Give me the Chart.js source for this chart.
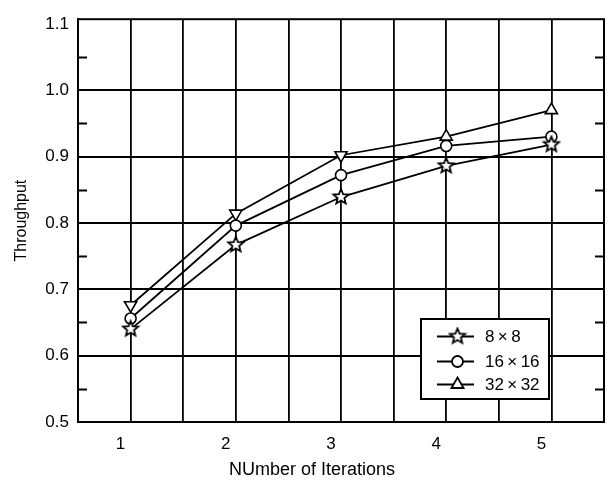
<!DOCTYPE html>
<html>
<head>
<meta charset="utf-8">
<script src="https://cdn.jsdelivr.net/npm/chart.js@4/dist/chart.umd.min.js"></script>
<style>
html,body{margin:0;padding:0;background:#fff;}
#c{display:block;}
</style>
</head>
<body>
<canvas id="c" width="616" height="483"></canvas>
<script>
// ---- data ----
const categories = [1, 2, 3, 4, 5];
const xTickLabels = ['1', '2', '3', '4', '5'];
const seriesNames = ['8\u2009×\u20098', '16\u2009×\u200916', '32\u2009×\u200932'];
const series8 = [0.640, 0.767, 0.839, 0.886, 0.918];
const series16 = [0.656, 0.796, 0.872, 0.916, 0.930];
const series32 = [0.676, 0.814, 0.902, 0.930, 0.970];
const triangleRotation = [180, 180, 180, 0, 0];
const yTicks = [0.5, 0.6, 0.7, 0.8, 0.9, 1.0, 1.1];
const yMinorTicks = [0.55, 0.65, 0.75, 0.85, 0.95, 1.05];
const xGridValues = [0.5, 1, 1.5, 2, 2.5, 3, 3.5, 4, 4.5, 5, 5.5];
const xTitle = 'NUmber of Iterations';
const yTitle = 'Throughput';

// ---- star marker ----
function makeStar(size, outer, inner, lw) {
  const cv = document.createElement('canvas');
  cv.width = size; cv.height = size;
  const g = cv.getContext('2d');
  const c = size / 2;
  g.beginPath();
  for (let i = 0; i < 10; i++) {
    const r = i % 2 === 0 ? outer : inner;
    const a = -Math.PI / 2 + i * Math.PI / 5;
    const px = c + r * Math.cos(a), py = c + r * Math.sin(a);
    if (i === 0) g.moveTo(px, py); else g.lineTo(px, py);
  }
  g.closePath();
  g.fillStyle = '#fff';
  g.fill();
  g.lineWidth = lw;
  g.strokeStyle = '#000';
  g.lineJoin = 'miter';
  g.stroke();
  return cv;
}
const starImg = makeStar(20, 8, 3.6, 1.8);

const toPts = arr => categories.map((c, i) => ({x: c, y: arr[i]}));

Chart.defaults.font.family = '"Liberation Sans", Arial, sans-serif';
Chart.defaults.color = '#000';

const frameAndExtras = {
  id: 'frameAndExtras',
  afterDraw(chart) {
    const ctx = chart.ctx;
    const a = chart.chartArea;
    const ys = chart.scales.y;
    ctx.save();
    // frame
    ctx.strokeStyle = '#000';
    ctx.lineWidth = 2;
    ctx.strokeRect(a.left, a.top, a.right - a.left, a.bottom - a.top);
    // minor ticks
    ctx.lineWidth = 1.8;
    yMinorTicks.forEach(v => {
      const py = Math.round(ys.getPixelForValue(v)) + 0.5;
      ctx.beginPath();
      ctx.moveTo(a.left, py); ctx.lineTo(a.left + 9, py);
      ctx.moveTo(a.right, py); ctx.lineTo(a.right - 9, py);
      ctx.stroke();
    });
    // axis titles
    ctx.fillStyle = '#000';
    ctx.font = '18px "Liberation Sans", Arial, sans-serif';
    ctx.textAlign = 'center';
    ctx.textBaseline = 'middle';
    ctx.fillText(xTitle, 312, 470);
    ctx.save();
    ctx.translate(22, (a.top + a.bottom) / 2);
    ctx.rotate(-Math.PI / 2);
    ctx.font = '16px "Liberation Sans", Arial, sans-serif';
    ctx.fillText(yTitle, 0, 0);
    ctx.restore();
    // legend
    const bx = 421, by = 319, bw = 128, bh = 80;
    ctx.fillStyle = '#fff';
    ctx.fillRect(bx, by, bw, bh);
    ctx.lineWidth = 2;
    ctx.strokeStyle = '#000';
    ctx.strokeRect(bx, by, bw, bh);
    const rows = [336.5, 361.5, 384.5];
    chart.data.datasets.forEach((ds, i) => {
      const ry = rows[i];
      ctx.beginPath();
      ctx.lineWidth = 1.8;
      ctx.moveTo(437, ry); ctx.lineTo(474, ry);
      ctx.stroke();
      Chart.helpers.drawPoint(ctx, {
        pointStyle: ds.pointStyle,
        radius: ds.pointRadius,
        rotation: 0,
        borderWidth: ds.pointBorderWidth
      }, 457.5, ry);
      ctx.fillStyle = '#000';
      ctx.font = '17px "Liberation Sans", Arial, sans-serif';
      ctx.textAlign = 'left';
      ctx.textBaseline = 'middle';
      ctx.fillText(ds.label, 485, ry + 1);
      ctx.fillStyle = '#fff';
    });
    ctx.restore();
  }
};

const common = {
  borderColor: '#000',
  borderWidth: 1.8,
  pointBorderColor: '#000',
  pointBackgroundColor: '#fff',
  pointBorderWidth: 1.6,
  tension: 0,
  fill: false
};

new Chart(document.getElementById('c'), {
  type: 'line',
  data: {
    datasets: [
      Object.assign({}, common, {label: seriesNames[0], data: toPts(series8), pointStyle: starImg, pointRadius: 7}),
      Object.assign({}, common, {label: seriesNames[1], data: toPts(series16), pointStyle: 'circle', pointRadius: 5.5}),
      Object.assign({}, common, {label: seriesNames[2], data: toPts(series32), pointStyle: 'triangle', pointRadius: 7, pointRotation: triangleRotation})
    ]
  },
  options: {
    responsive: false,
    animation: false,
    layout: {padding: {top: 9, right: 7, bottom: 0, left: 0}},
    plugins: {legend: {display: false}, tooltip: {enabled: false}},
    scales: {
      x: {
        type: 'linear',
        min: 0.5, max: 5.5,
        afterBuildTicks: s => { s.ticks = xGridValues.map(v => ({value: v})); },
        afterFit: s => { s.height = 61; },
        ticks: {
          autoSkip: false, maxRotation: 0, padding: 12, labelOffset: -10,
          font: {size: 17},
          callback: v => { const i = categories.indexOf(v); return i >= 0 ? xTickLabels[i] : ''; }
        },
        grid: {color: '#000', lineWidth: 1.8, drawTicks: false},
        border: {color: '#000', width: 2}
      },
      y: {
        min: 0.5, max: 1.107,
        afterBuildTicks: s => { s.ticks = yTicks.map(v => ({value: v})); },
        afterFit: s => { s.width = 78; },
        ticks: {
          padding: 9,
          font: {size: 17},
          callback: v => v.toFixed(1)
        },
        grid: {
          color: c => (c.tick && Math.abs(c.tick.value - 1.1) < 1e-6) ? 'rgba(0,0,0,0)' : '#000',
          lineWidth: 2, drawTicks: false
        },
        border: {color: '#000', width: 2}
      }
    }
  },
  plugins: [frameAndExtras]
});
</script>
</body>
</html>
